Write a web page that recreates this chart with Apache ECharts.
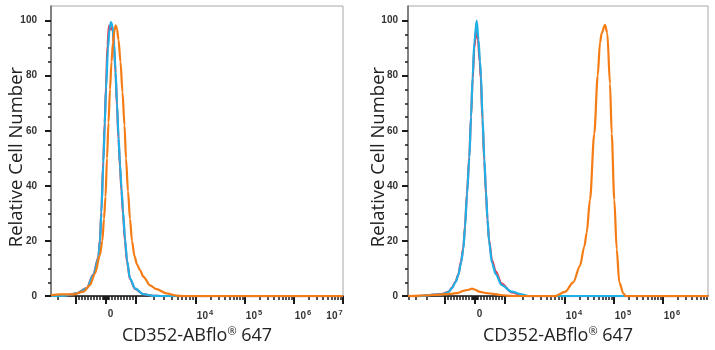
<!DOCTYPE html>
<html><head><meta charset="utf-8">
<script src="https://cdn.jsdelivr.net/npm/echarts@6/dist/echarts.min.js"></script>
<style>html,body{margin:0;padding:0;background:#fff}#c{width:715px;height:350px}</style>
</head><body><div id="c"></div>
<script>
// x values: position on the biexponential display scale (0 -> 0, 10^4 -> 90, +49 per decade above)
const leftRed = [[-54.5,0],[-40,0.2],[-28.8,1],[-18.8,2.9],[-12.2,7.8],[-7.2,14],[-5.5,20.5],[-4.2,30.5],[-2.2,49],[-0.8,63],[0.5,76],[2,91],[3.5,98.3],[4.8,96.8],[6.2,97.6],[7.5,96],[8.7,90],[10,81],[11.5,69],[13,57],[14.5,47],[16,38],[17.5,30],[19.5,20],[21.5,12.5],[24.5,6.2],[29.5,2.6],[37.8,0.7],[47.8,0.1],[55,0],[237.5,0]];
const leftBlue = [[-54.5,0],[-40,0.2],[-28.8,1],[-18.8,2.8],[-12.2,7.6],[-7.2,13.6],[-5.5,20],[-4.2,30],[-2.2,48],[-0.8,62],[0.5,75],[2.5,90],[4,97],[5.5,99.5],[7,98],[8.5,92],[10,82],[11.5,70],[13,58],[14.5,48],[16,39],[17.5,31],[19.5,21],[21.5,13],[24.5,6.4],[29.5,2.8],[37.8,0.7],[47.8,0.1],[55,0],[237.5,0]];
const leftOrange = [[-54.5,0.3],[-45,0.6],[-32,0.6],[-22,1.6],[-15.5,4],[-10.5,8.2],[-5.5,15],[-3.2,20],[-1.5,28],[0,36],[1.5,50],[3,63],[4.5,75],[6,85],[7.5,92],[9,96.5],[10.2,98.3],[11.5,97],[13,93],[15,85],[17,74],[19,62],[20.5,50],[22.5,38],[24.5,28],[26.5,20],[29,14.5],[31.5,11.5],[34.5,9.4],[38,7],[44.5,3.9],[51,2.5],[61,1],[71,0.2],[78,0],[237.5,0]];

const rightRed = [[-66.5,0],[-54.5,0],[-40,0.5],[-32.8,0.7],[-26,1.5],[-22.8,2.9],[-19,5.2],[-16.2,7.8],[-13.5,12.5],[-11.2,17.5],[-9.5,25.5],[-7.5,37.5],[-5.2,50.5],[-3.5,65],[-1.8,79],[-0.2,90],[1.6,97],[3.5,93],[5.2,85],[6.3,79],[8,64],[9.8,49],[11.5,37],[13,27.5],[14.5,20.5],[17.5,13],[21.2,9],[27.2,4.5],[37.2,1.3],[47.2,0.4],[53.8,0],[233.5,0]];
const rightBlue = [[-66.5,0],[-54.5,0],[-40,0.5],[-32.8,0.6],[-26,1.4],[-22.8,2.8],[-19,5],[-16.2,7.6],[-13.5,12],[-11.2,17],[-9.5,25],[-7.5,37],[-5.2,50],[-3.5,65],[-1.8,80],[-0.2,92],[2.2,100],[4,93],[5.5,85],[6.5,80],[8,65],[9.8,50],[11.5,38],[13,28],[14.5,20],[17.5,12],[21.2,8],[27.2,4],[37.2,1.6],[47.2,0.6],[53.8,0],[233.5,0]];
const rightOrange = [[-66.5,0],[-54.5,0.2],[-40,0.4],[-24.5,0.8],[-16,1.2],[-11.5,1.9],[-6,2.3],[-2.5,2.7],[0,2.4],[5.5,1.5],[12,1.1],[18.8,0.8],[26,0.4],[32,0.2],[40,0],[80.5,0],[90.5,1.5],[98.8,5],[105.5,11],[109.8,18],[112.2,23],[115.5,35],[119.8,59],[123.2,80],[125.5,92],[127.2,95.5],[130.5,98.5],[132.8,95.5],[135.5,77],[137.2,59],[139.8,35],[142.2,17],[144.8,5],[148.8,1],[151.2,0],[233.5,0]];

const majorTickValues = [-1e3, 0, 1e3, 1e4, 1e5, 1e6, 1e7];
const labelValues = [0, 1e4, 1e5, 1e6, 1e7];
const labelExponents = [null, 4, 5, 6, 7];
const yTickValues = [0, 20, 40, 60, 80, 100];
const yMinorValues = [5, 10, 15, 25, 30, 35, 45, 50, 55, 65, 70, 75, 85, 90, 95];
const xTitle = 'CD352-ABflo';
const xTitleMark = '®';
const xTitleTail = ' 647';
const yTitle = 'Relative Cell Number';

const COLORS = { red: '#e8384f', blue: '#1fb0e6', orange: '#f57c14' };
const TICK_FONT = '"Liberation Sans", Arial, sans-serif';
const TITLE_FONT = '"Open Sans", "Noto Sans", sans-serif';

function biex(v) {
  const s = Math.sign(v), a = Math.abs(v);
  if (a <= 1e3) return 30 * v / 1e3;
  if (a <= 1e4) return s * (30 + 60 * Math.log10(a / 1e3));
  return s * (90 + 49 * Math.log10(a / 1e4));
}
const minorRaw = [];
for (let k = 1; k <= 9; k++) minorRaw.push(k * 10, k * 100, -k * 10, -k * 100);
for (let k = 2; k <= 9; k++) minorRaw.push(k * 1e3, -k * 1e3, k * 1e4, k * 1e5, k * 1e6);

const panels = [
  { grid: { left: 51, top: 6, width: 292, height: 292 }, xMin: -54.5, xMax: 237.5, yMargin: 14, yNameGap: 25, series: [leftRed, leftBlue, leftOrange] },
  { grid: { left: 408, top: 6, width: 300, height: 292 }, xMin: -66.5, xMax: 233.5, yMargin: 10, yNameGap: 20, series: [rightRed, rightBlue, rightOrange] }
];

const option = { animation: false, backgroundColor: '#fff', grid: [], xAxis: [], yAxis: [], series: [] };

panels.forEach((p, gi) => {
  const inRange = x => x >= p.xMin - 0.01 && x <= p.xMax + 0.01;
  const majors = majorTickValues.map(biex).filter(inRange);
  const minors = minorRaw.map(biex).filter(inRange);
  const labs = [];
  labelValues.forEach((v, i) => {
    const t = biex(v);
    if (!inRange(t)) return;
    const off = v === 0 ? 5 : (t >= p.xMax - 1 ? -8 : 9.5);
    labs.push({ pos: t + off, exp: labelExponents[i] });
  });
  option.grid.push(Object.assign({ show: true, borderColor: '#a8a8a8', borderWidth: 1, backgroundColor: 'transparent' }, p.grid));
  const xi = option.xAxis.length, yi = option.yAxis.length;
  option.xAxis.push({
    type: 'value', gridIndex: gi, min: p.xMin, max: p.xMax, position: 'bottom',
    axisLine: { show: true, onZero: false, lineStyle: { color: '#1a1a1a', width: 1.5 } },
    axisTick: { show: true, customValues: majors, length: 8, lineStyle: { color: '#1a1a1a', width: 2 } },
    splitLine: { show: false },
    axisLabel: {
      customValues: labs.map(l => l.pos), margin: 13, color: '#333', fontFamily: TICK_FONT, fontWeight: 'bold', fontSize: 10,
      formatter: val => {
        const l = labs.find(o => Math.abs(o.pos - val) < 0.01);
        if (!l) return '';
        return l.exp == null ? '{b|0}' : '{b|10}{s|' + l.exp + '}';
      },
      rich: {
        b: { fontSize: 10, fontWeight: 'bold', fontFamily: TICK_FONT, color: '#333' },
        s: { fontSize: 7.5, fontWeight: 'bold', fontFamily: TICK_FONT, color: '#333', padding: [0, 0, 7, 1] }
      }
    },
    name: '{t|' + xTitle + '}{m|' + xTitleMark + '}{t|' + xTitleTail + '}', nameLocation: 'middle', nameGap: 27,
    nameTextStyle: {
      rich: {
        t: { fontSize: 18, fontFamily: TITLE_FONT, color: '#222' },
        m: { fontSize: 11, fontFamily: TITLE_FONT, color: '#222', padding: [0, 0, 8, 0] }
      }
    }
  });
  option.xAxis.push({
    type: 'value', gridIndex: gi, min: p.xMin, max: p.xMax, position: 'bottom',
    axisLine: { show: false, onZero: false },
    axisTick: { show: true, customValues: minors, length: 4, lineStyle: { color: '#1a1a1a', width: 1.5 } },
    axisLabel: { show: false }, splitLine: { show: false }
  });
  option.yAxis.push({
    type: 'value', gridIndex: gi, min: 0, max: 105.3, position: 'left',
    axisLine: { show: true, onZero: false, lineStyle: { color: '#666', width: 1.5 } },
    axisTick: { show: true, customValues: yTickValues, length: 6, lineStyle: { color: '#1a1a1a', width: 2 } },
    axisLabel: { customValues: yTickValues, margin: p.yMargin, color: '#333', fontFamily: TICK_FONT, fontWeight: 'bold', fontSize: 10 },
    splitLine: { show: false },
    name: yTitle, nameLocation: 'middle', nameGap: p.yNameGap, nameMoveOverlap: false,
    nameTextStyle: { fontSize: 18.5, fontFamily: TITLE_FONT, color: '#222', padding: [0, 12, 0, 0] }
  });
  option.yAxis.push({
    type: 'value', gridIndex: gi, min: 0, max: 105.3, position: 'left',
    axisLine: { show: false, onZero: false },
    axisTick: { show: true, customValues: yMinorValues, length: 3, lineStyle: { color: '#1a1a1a', width: 1.5 } },
    axisLabel: { show: false }, splitLine: { show: false }
  });
  [COLORS.red, COLORS.blue, COLORS.orange].forEach((c, si) => {
    option.series.push({
      type: 'line', xAxisIndex: xi, yAxisIndex: yi, data: p.series[si], showSymbol: false,
      smooth: 0.3, smoothMonotone: 'x', lineStyle: { color: c, width: 2.2 }, itemStyle: { color: c }, z: 3 + si
    });
  });
});

const chart = echarts.init(document.getElementById('c'), null, { renderer: 'canvas' });
chart.setOption(option);
</script></body></html>
